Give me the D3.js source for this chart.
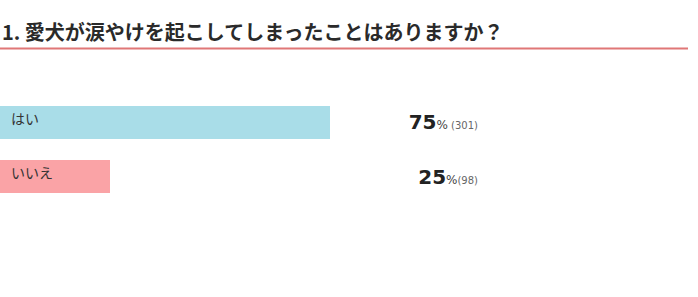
<!DOCTYPE html>
<html>
<head>
<meta charset="utf-8">
<script src="https://cdn.jsdelivr.net/npm/d3@7"></script>
<style>
  body { margin: 0; background: #fff; }
  text { font-family: "Noto Sans CJK JP", "Noto Sans", sans-serif; }
</style>
</head>
<body>
<script>
var title = "1. 愛犬が涙やけを起こしてしまったことはありますか？";
var categories = ["はい", "いいえ"];
var percents = [75, 25];
var counts = [301, 98];
var colors = ["#a9dde8", "#faa3a6"];

var w = 698, h = 297;
var svg = d3.select("body").append("svg")
    .attr("width", w)
    .attr("height", h);

// title + underline
svg.append("text")
    .attr("x", 2)
    .attr("y", 40)
    .attr("font-size", "20px")
    .attr("font-weight", "bold")
    .attr("fill", "#2a2a2a")
    .text(title);

svg.append("line")
    .attr("x1", 0).attr("x2", 688)
    .attr("y1", 48.5).attr("y2", 48.5)
    .attr("stroke", "#e07777")
    .attr("stroke-width", 2);

var x = d3.scaleLinear().domain([0, 100]).range([0, 440]);
var y = d3.scaleBand().domain(categories).range([106, 193]).paddingInner(0.389).paddingOuter(0);

svg.selectAll("rect.bar")
   .data(categories)
   .enter()
   .append("rect")
   .attr("class", "bar")
   .attr("x", 0)
   .attr("y", function(d) { return y(d); })
   .attr("width", function(d, i) { return x(percents[i]); })
   .attr("height", y.bandwidth())
   .attr("fill", function(d, i) { return colors[i]; });

svg.selectAll("text.cat")
   .data(categories)
   .enter()
   .append("text")
   .attr("class", "cat")
   .attr("x", 11)
   .attr("y", function(d) { return y(d) + y.bandwidth() / 2 - 2; })
   .attr("dominant-baseline", "middle")
   .attr("font-size", "14px")
   .attr("fill", "#333")
   .text(function(d) { return d; });

var vals = svg.selectAll("text.val")
   .data(categories)
   .enter()
   .append("text")
   .attr("class", "val")
   .attr("x", 478)
   .attr("y", function(d) { return y(d) + y.bandwidth() / 2 + 7; })
   .attr("text-anchor", "end")
   .style("font-family", "'DejaVu Sans', Verdana, sans-serif")
   .attr("fill", "#222");

vals.append("tspan")
   .attr("font-size", "20px")
   .attr("font-weight", "bold")
   .text(function(d, i) { return percents[i]; });
vals.append("tspan")
   .attr("font-size", "12px")
   .attr("fill", "#444")
   .text("%");
vals.append("tspan")
   .attr("font-size", "10px")
   .attr("fill", "#666")
   .text(function(d, i) { return (counts[i] > 99 ? " " : "") + "(" + counts[i] + ")"; });
</script>
</body>
</html>
